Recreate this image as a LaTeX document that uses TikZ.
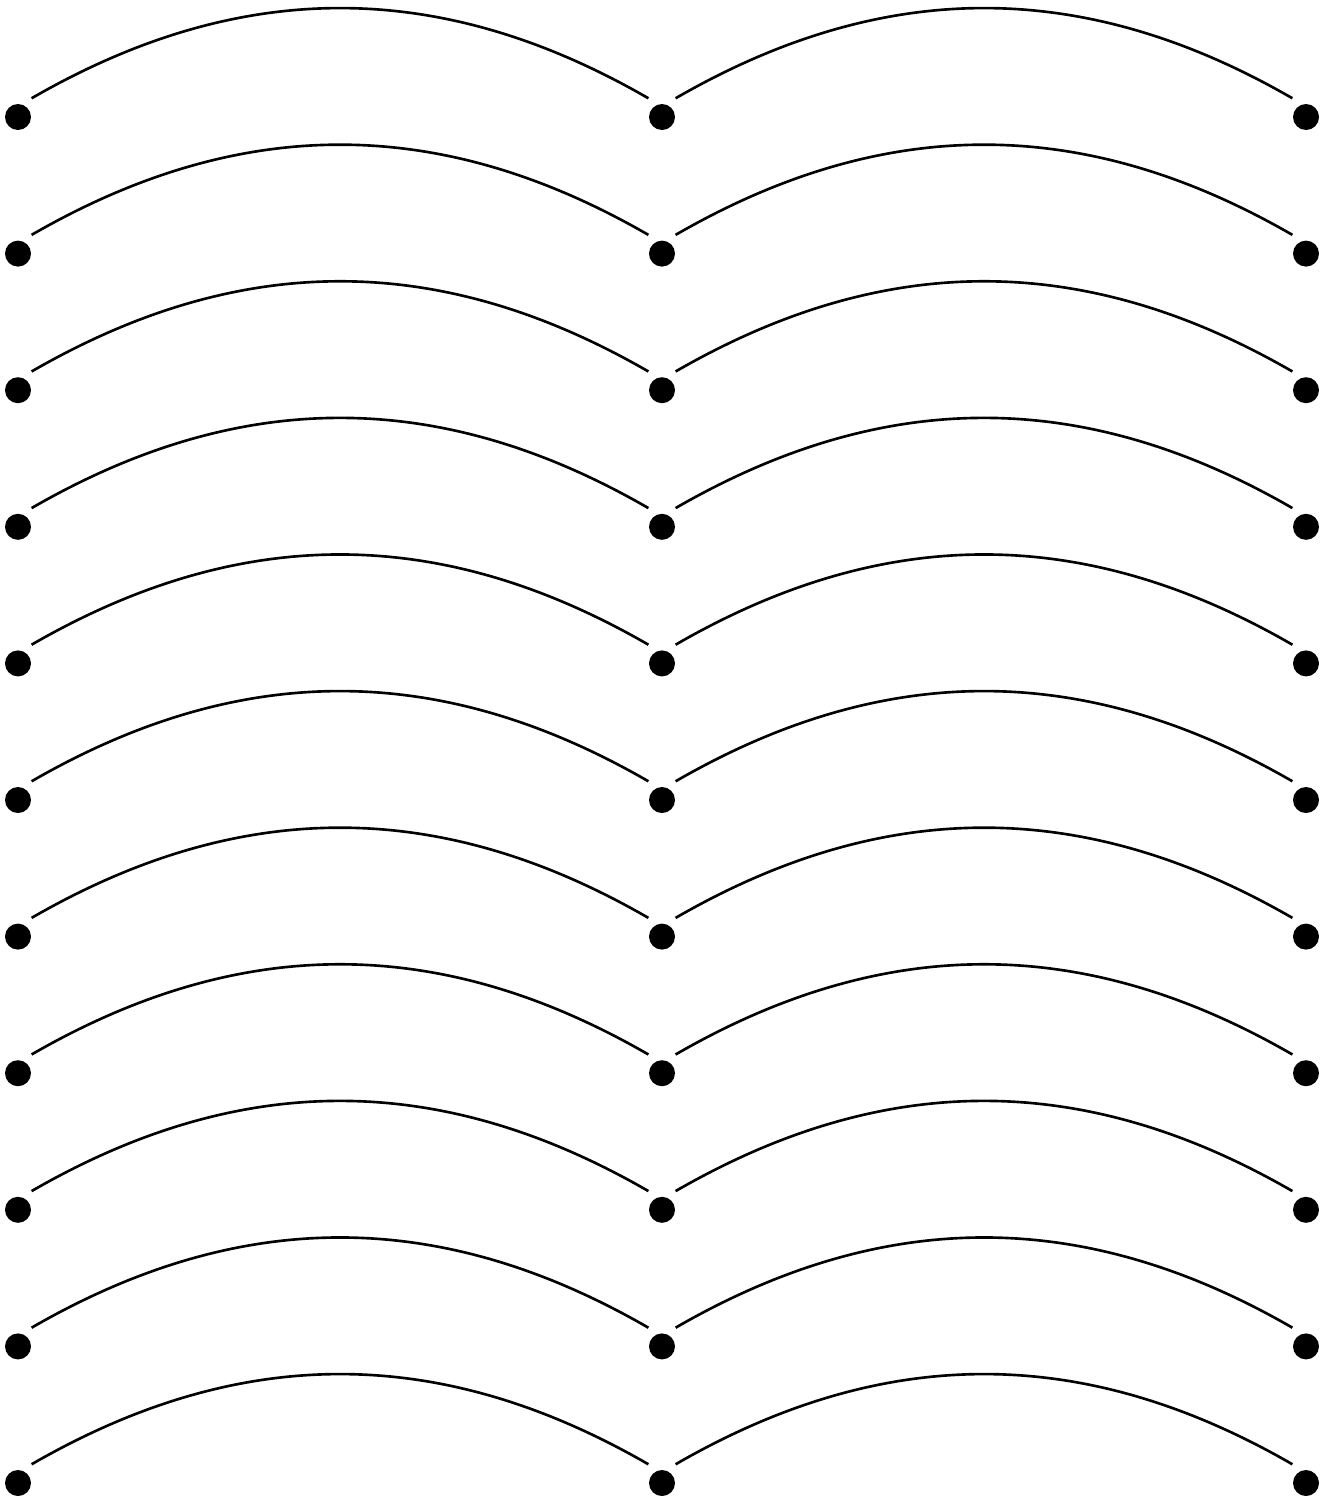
\documentclass[tikz,border=0pt]{standalone}
\begin{document}
\begin{tikzpicture}[x=0.02cm,y=-0.02cm,
  dotnode/.style={circle,draw=none,inner sep=0pt,minimum size=0.912cm,
    path picture={\fill[black] (path picture bounding box.center) circle (0.26cm);}},
  arcline/.style={line width=1.5pt,black}]
\useasboundingbox (0,0) rectangle (1333,1502);
\foreach \r in {0,...,10}{
  \pgfmathsetmacro{\yy}{117+136.6*\r}
  \node[dotnode] (n-\r-1) at (18,\yy) {};
  \node[dotnode] (n-\r-2) at (662,\yy) {};
  \node[dotnode] (n-\r-3) at (1306,\yy) {};
  \draw[arcline] (n-\r-1.54) to[bend left=30] (n-\r-2.126);
  \draw[arcline] (n-\r-2.54) to[bend left=30] (n-\r-3.126);
}
\end{tikzpicture}
\end{document}
